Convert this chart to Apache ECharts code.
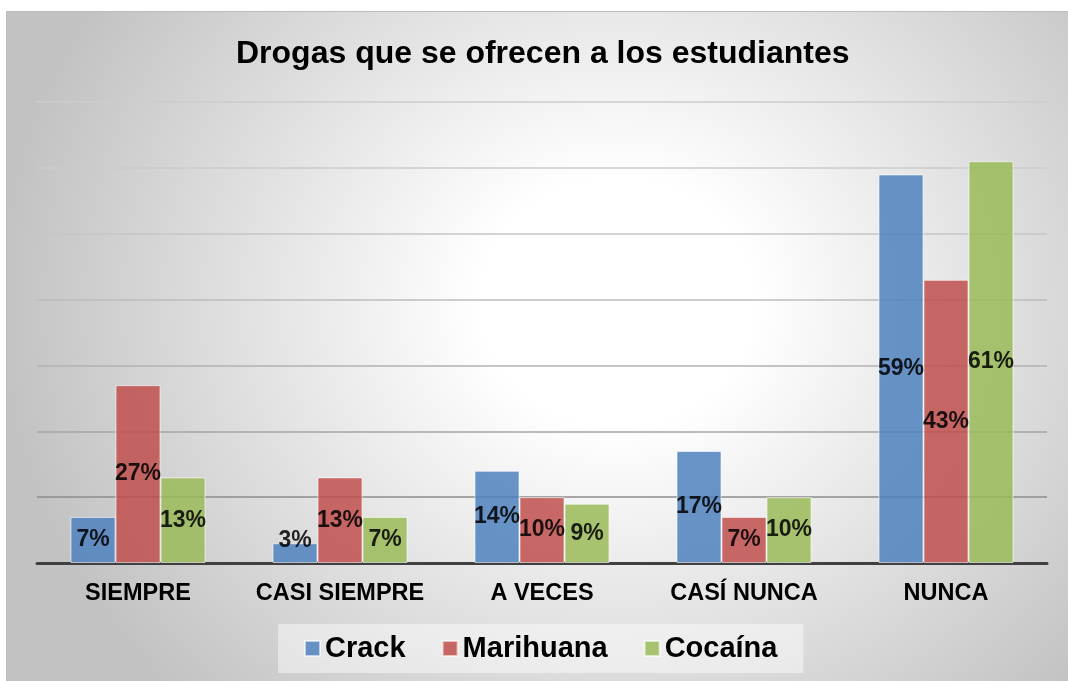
<!DOCTYPE html>
<html>
<head>
<meta charset="utf-8">
<script src="https://cdn.jsdelivr.net/npm/echarts@6/dist/echarts.min.js"></script>
<style>
html,body{margin:0;padding:0;width:1068px;height:681px;overflow:hidden;background:#fff;}
#bg{position:absolute;left:6px;top:11px;width:1062px;height:670px;box-sizing:border-box;
 border-top:1px solid #bdbdbd;border-left:1px solid #bdbdbd;
 background:radial-gradient(ellipse 620px 560px at 610px 290px,#ffffff 0%,#ffffff 22%,#c2c2c2 100%);}
#chart{position:absolute;left:0;top:0;width:1068px;height:681px;}
</style>
</head>
<body>
<div id="bg"></div>
<div id="chart"></div>
<script>
const titleText = 'Drogas que se ofrecen a los estudiantes';
const categories = ['SIEMPRE', 'CASI SIEMPRE', 'A VECES', 'CASÍ NUNCA', 'NUNCA'];
const seriesNames = ['Crack', 'Marihuana', 'Cocaína'];
const crack = [7, 3, 14, 17, 59];
const marihuana = [27, 13, 10, 7, 43];
const cocaina = [13, 7, 9, 10, 61];
const yTicks = [0, 10, 20, 30, 40, 50, 60, 70];

const colors = ['#4F81BD', '#C0504D', '#9BBB59'];
const font = '"Liberation Sans", Arial, sans-serif';

function toData(vals) {
  return vals.map(v => v < 5 ? { value: v, label: { offset: [0, -12] } } : v);
}

const chart = echarts.init(document.getElementById('chart'), null, { renderer: 'canvas' });
const seriesData = [crack, marihuana, cocaina];
chart.setOption({
  backgroundColor: 'transparent',
  animation: false,
  title: {
    text: titleText,
    left: 236,
    top: 38,
    padding: 0,
    textStyle: { fontFamily: font, fontWeight: 'bold', fontSize: 32, color: '#000' }
  },
  legend: {
    data: seriesNames,
    left: 278,
    top: 624,
    icon: 'rect',
    itemWidth: 15,
    itemHeight: 15,
    itemGap: 36,
    padding: [10, 26, 10, 26],
    backgroundColor: 'rgba(255,255,255,0.45)',
    textStyle: { fontFamily: font, fontWeight: 'bold', fontSize: 29, color: '#000' }
  },
  grid: { left: 37, right: 21, top: 102, bottom: 118 },
  xAxis: {
    type: 'category',
    data: categories,
    axisTick: { show: false },
    axisLine: { lineStyle: { color: '#404040', width: 3 } },
    axisLabel: { interval: 0, margin: 19, fontFamily: font, fontWeight: 'bold', fontSize: 23.5, color: '#000' }
  },
  yAxis: {
    type: 'value',
    min: yTicks[0],
    max: yTicks[yTicks.length - 1],
    interval: yTicks[1] - yTicks[0],
    axisLabel: { show: false },
    axisLine: { show: false },
    axisTick: { show: false },
    splitLine: {
      lineStyle: {
        width: 1.5,
        color: ['rgba(0,0,0,0)', '#8c8c8c', '#a4a4a4', '#b2b2b2', '#bcbcbc', '#c6c6c6', '#cbcbcb', '#cdcdcd']
      }
    }
  },
  series: seriesNames.map((name, i) => ({
    name: name,
    type: 'bar',
    data: toData(seriesData[i]),
    barWidth: 45,
    barGap: '0%',
    itemStyle: { color: colors[i], opacity: 0.85, borderColor: 'rgba(255,255,255,0.7)', borderWidth: 1 },
    label: {
      show: true,
      position: 'inside',
      formatter: '{c}%',
      fontFamily: font,
      fontWeight: 'bold',
      fontSize: 23,
      color: '#000',
      textBorderWidth: 0
    }
  }))
});
</script>
</body>
</html>
